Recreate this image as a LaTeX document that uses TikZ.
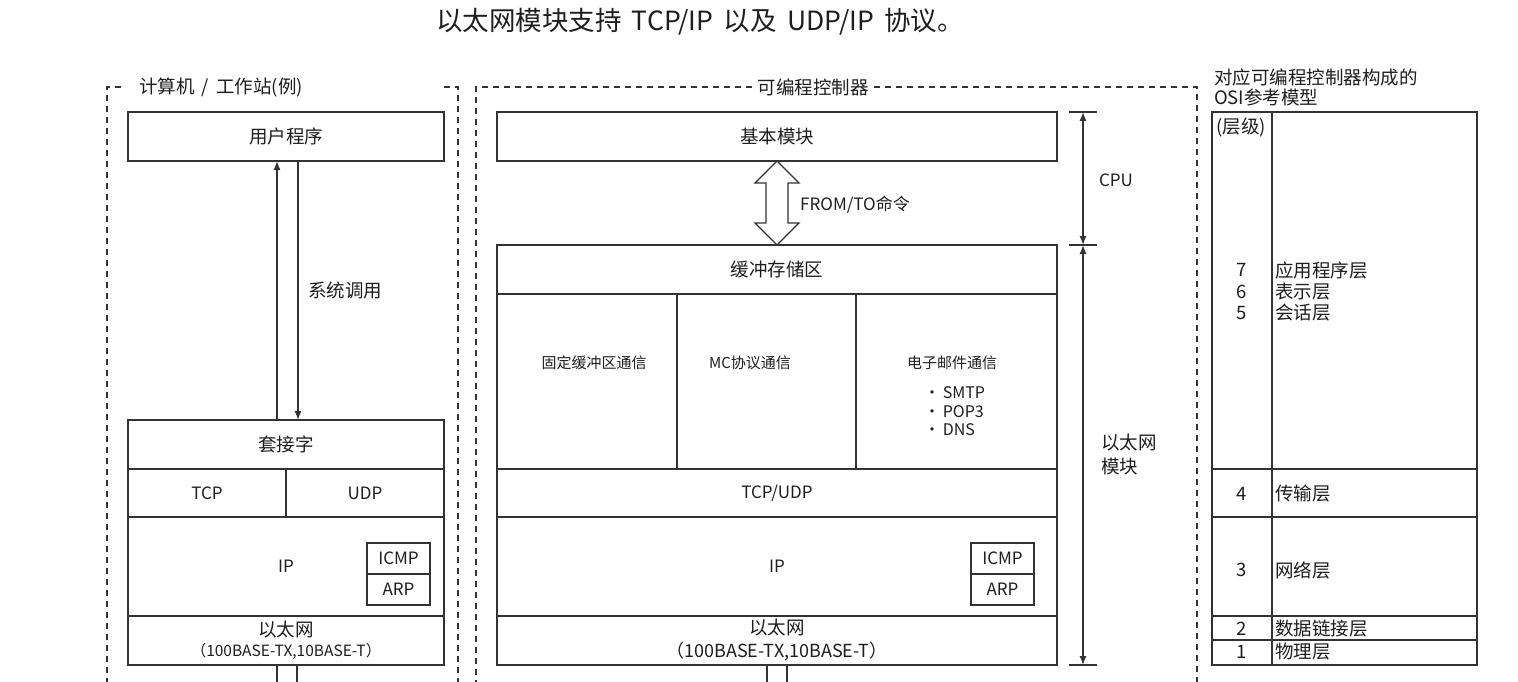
\documentclass[tikz,border=0pt]{standalone}
\usepackage{fontspec}
\setmainfont{Noto Sans CJK SC}
\usetikzlibrary{arrows.meta,calc}
\definecolor{ln}{HTML}{333333}
\definecolor{tx}{HTML}{1E1E1E}
\begin{document}
\begin{tikzpicture}[x=1pt,y=-1pt,
  box/.style={draw=ln, line width=1.6pt, inner sep=0pt, outer sep=0pt, text=tx},
  txt/.style={text=tx, inner sep=0pt},
  dbox/.style={draw=ln, line width=1.2pt, dash pattern=on 6pt off 5pt},
  conn/.style={draw=ln, line width=1.3pt},
  arr/.style={conn, -{Latex[length=9pt,width=7pt]}},
  dim/.style={conn, {Latex[length=9pt,width=7pt]}-{Latex[length=9pt,width=7pt]}},
  fT/.style={font=\fontsize{26.5}{30}\selectfont},
  fA/.style={font=\fontsize{18.5}{22}\selectfont},
  fB/.style={font=\fontsize{17}{20}\selectfont},
  fC/.style={font=\fontsize{15}{18}\selectfont},
  fD/.style={font=\fontsize{15.5}{18}\selectfont},
]
\useasboundingbox (0,0) rectangle (1518,682);
\fill[white] (0,0) rectangle (1518,682);

% title
\node[txt, fT] (title) at (700,22) {以太网模块支持\ \,TCP/IP\ \,以及\ \,UDP/IP\ \,协议。};

% dashed frames
\draw[dbox] (121,87) -- (107,87) -- (107,682);
\draw[dbox] (444,87) -- (458,87) -- (458,682);
\draw[dbox] (752,87) -- (476,87) -- (476,682);
\draw[dbox] (874,87) -- (1197,87) -- (1197,682);
\node[txt, fA, anchor=west] (pcl) at (139,87) {计算机\ \,/\ \,工作站(例)};
\node[txt, fA] (plcl) at (813,87) {可编程控制器};

% left column
\node[box, fA, minimum width=316pt, minimum height=49pt] (user) at (286,136.5) {用户程序};
\node[box, fA, minimum width=316pt, minimum height=49pt] (sock) at (286,444.5) {套接字};
\node[box, fB, minimum width=158pt, minimum height=48pt] (tcp) at (207,493) {TCP};
\node[box, fB, minimum width=158pt, minimum height=48pt] (udp) at (365,493) {UDP};
\node[box, fB, minimum width=316pt, minimum height=99pt] (ip) at (286,566.5) {IP};
\node[box, fB, minimum width=63pt, minimum height=31pt] (icmp) at (398.5,558.5) {ICMP};
\node[box, fB, minimum width=63pt, minimum height=31pt] (arp) at (398.5,589.5) {ARP};
\node[box, minimum width=316pt, minimum height=49pt] (eth) at (286,640.5) {};
\node[txt, fA] (ethA) at (286,630) {以太网};
\node[txt, fD] (ethB) at (286,651) {（100BASE-TX,10BASE-T）};

\draw[arr] ([xshift=-9pt]sock.north) -- ([xshift=-9pt]user.south);
\draw[arr] ([xshift=12pt]user.south) -- ([xshift=12pt]sock.north);
\node[txt, fA] (sys) at (345,290) {系统调用};
\coordinate (lb1) at (277,682);
\coordinate (lb2) at (297,682);
\draw[conn] ([xshift=-9pt]eth.south) -- (lb1);
\draw[conn] ([xshift=11pt]eth.south) -- (lb2);

% middle column
\node[box, fA, minimum width=560pt, minimum height=49pt] (base) at (777,136.5) {基本模块};
\node[box, fA, minimum width=560pt, minimum height=49pt] (buf) at (777,269.5) {缓冲存储区};
\node[box, minimum width=180pt, minimum height=175pt] (fix) at (587,381.5) {};
\node[box, minimum width=179pt, minimum height=175pt] (mc) at (766.5,381.5) {};
\node[box, minimum width=201pt, minimum height=175pt] (mail) at (956.5,381.5) {};
\node[txt, fC] (fixt) at (594,363) {固定缓冲区通信};
\node[txt, fC] (mct) at (750,363) {MC协议通信};
\node[txt, fC] (mailt) at (952,363) {电子邮件通信};
\node[txt, anchor=west, align=left, font=\fontsize{16}{18.5}\selectfont] (mailb) at (924,411.5) {•\,SMTP\\•\,POP3\\•\,DNS};
\node[box, fB, minimum width=560pt, minimum height=48pt] (tu) at (777,493) {TCP/UDP};
\node[box, fB, minimum width=560pt, minimum height=99pt] (ip2) at (777,566.5) {IP};
\node[box, fB, minimum width=63pt, minimum height=31pt] (icmp2) at (1002.5,558.5) {ICMP};
\node[box, fB, minimum width=63pt, minimum height=31pt] (arp2) at (1002.5,589.5) {ARP};
\node[box, minimum width=560pt, minimum height=49pt] (eth2) at (777,640.5) {};
\node[txt, fA] (eth2A) at (777,628) {以太网};
\node[txt, font=\fontsize{18}{20}\selectfont] (eth2B) at (777,651) {（100BASE-TX,10BASE-T）};
\coordinate (mb1) at (767,682);
\coordinate (mb2) at (787,682);
\draw[conn] ([xshift=-10pt]eth2.south) -- (mb1);
\draw[conn] ([xshift=10pt]eth2.south) -- (mb2);

% double arrow between base and buffer
\draw[conn, fill=white] (base.south) -- ++(-22,22) -- ++(11,0) -- ++(0,40) -- ++(-11,0)
  -- (buf.north) -- ++(22,-22) -- ++(-11,0) -- ++(0,-40) -- ++(11,0) -- cycle;
\node[txt, fB, anchor=west] (fromto) at (800,205) {FROM/TO命令};

% dimension lines
\coordinate (d1) at (1083,112);
\coordinate (d2) at (1083,245);
\coordinate (d3) at (1083,665);
\foreach \d in {d1,d2,d3} \draw[conn] ($(\d)+(-14,0)$) -- ($(\d)+(14,0)$);
\draw[dim] (d1) -- (d2);
\draw[dim] (d2) -- (d3);
\node[txt, fB] (cpu) at (1116,180) {CPU};
\node[txt, anchor=west, align=left, font=\fontsize{18.5}{24}\selectfont] (ethm) at (1101,454) {以太网\\模块};

% OSI table
\node[txt, anchor=west, align=left, font=\fontsize{18.5}{20}\selectfont] (osit) at (1214,87) {对应可编程控制器构成的\\OSI参考模型};
\node[box, minimum width=265pt, minimum height=357pt] (o7) at (1344.5,290.5) {};
\node[box, minimum width=265pt, minimum height=48pt] (o4) at (1344.5,493) {};
\node[box, minimum width=265pt, minimum height=99pt] (o3) at (1344.5,566.5) {};
\node[box, minimum width=265pt, minimum height=24pt] (o2) at (1344.5,628) {};
\node[box, minimum width=265pt, minimum height=25pt] (o1) at (1344.5,652.5) {};
\coordinate (dvt) at (1272,112);
\coordinate (dvb) at (1272,665);
\draw[conn, line width=1.6pt] (dvt) -- (dvb);
\node[txt, fA] (lvl) at (1241,128) {(层级)};
\node[txt, fA] (n7) at (1242,270) {7};
\node[txt, fA] (n6) at (1242,292) {6};
\node[txt, fA] (n5) at (1242,313) {5};
\node[txt, fA] (n4) at (1242,494) {4};
\node[txt, fA] (n3) at (1242,570) {3};
\node[txt, fA] (n2) at (1242,629) {2};
\node[txt, fA] (n1) at (1242,652) {1};
\node[txt, fA, anchor=west] (l7) at (1275,270) {应用程序层};
\node[txt, fA, anchor=west] (l6) at (1275,292) {表示层};
\node[txt, fA, anchor=west] (l5) at (1275,313) {会话层};
\node[txt, fA, anchor=west] (l4) at (1275,494) {传输层};
\node[txt, fA, anchor=west] (l3) at (1275,570) {网络层};
\node[txt, fA, anchor=west] (l2) at (1275,629) {数据链接层};
\node[txt, fA, anchor=west] (l1) at (1275,652) {物理层};
\end{tikzpicture}
\end{document}
